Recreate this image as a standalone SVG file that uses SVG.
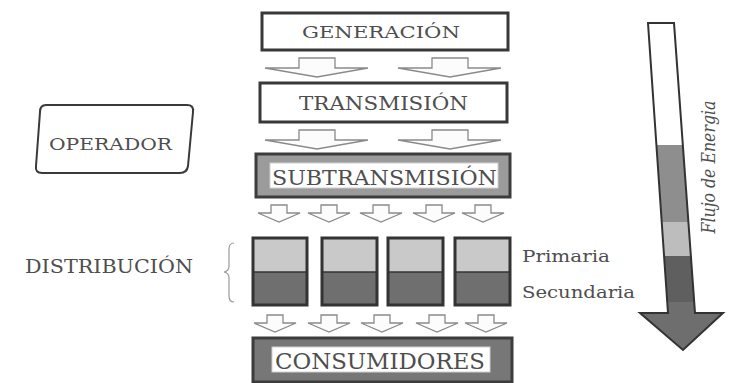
<svg xmlns="http://www.w3.org/2000/svg" width="729" height="383" viewBox="0 0 729 383">
  <style>
    .lbl { fill: #4e4e4e; font-family: "DejaVu Serif", serif; }
    .box { fill: #ffffff; stroke: #383838; stroke-width: 3; }
    .frame { stroke: #3c3c3c; stroke-width: 3; }
    .inner { fill: #ffffff; stroke: #d0d0d0; stroke-width: 1; }
    .flow { fill: #fcfcfc; stroke: #8a8a8a; stroke-width: 1.3; stroke-linejoin: miter; }
    .top { fill: #c9c9c9; }
    .bot { fill: #6f6f6f; }
  </style>
  <defs>
    <!-- small block arrow, centred on x=0 -->
    <path id="smallArrow" d="M-8,0 H8 V8 H21 L0,17 L-21,8 H-8 Z"/>
    <!-- wide block arrow, centred on x=0 -->
    <path id="wideArrow" d="M-18,0 H18 V10 H51 L0,19 L-52,10 H-18 Z"/>
    <clipPath id="energyClip">
      <path d="M648,23 L674,23 L695,313 L723,313 L683,350 L640,313 L668,313 Z"/>
    </clipPath>
  </defs>

  <!-- hierarchy blocks -->
  <g id="generacion">
    <rect class="box" x="262" y="13" width="246" height="37"/>
    <text class="lbl" x="381" y="38" font-size="17" text-anchor="middle" textLength="158" lengthAdjust="spacingAndGlyphs">GENERACIÓN</text>
  </g>

  <g id="transmision">
    <rect class="box" x="260" y="83" width="247" height="39"/>
    <text class="lbl" x="383.5" y="110" font-size="18" text-anchor="middle" textLength="169" lengthAdjust="spacingAndGlyphs">TRANSMISIÓN</text>
  </g>

  <g id="subtransmision">
    <rect class="frame" x="256" y="154" width="254" height="43" fill="#9b9b9b"/>
    <rect class="inner" x="270" y="163" width="228" height="25"/>
    <text class="lbl" x="384.5" y="185" font-size="20" text-anchor="middle" textLength="225" lengthAdjust="spacingAndGlyphs">SUBTRANSMISIÓN</text>
  </g>

  <g id="distribucion-1">
    <rect class="top" x="253" y="238" width="54" height="34"/>
    <rect class="bot" x="253" y="272" width="54" height="33"/>
    <rect x="253" y="238" width="54" height="67" fill="none" stroke="#333" stroke-width="3"/>
    <line x1="253" y1="272" x2="307" y2="272" stroke="#333" stroke-width="1.5"/>
  </g>
  <g id="distribucion-2">
    <rect class="top" x="322" y="238" width="55" height="34"/>
    <rect class="bot" x="322" y="272" width="55" height="33"/>
    <rect x="322" y="238" width="55" height="67" fill="none" stroke="#333" stroke-width="3"/>
    <line x1="322" y1="272" x2="377" y2="272" stroke="#333" stroke-width="1.5"/>
  </g>
  <g id="distribucion-3">
    <rect class="top" x="388" y="238" width="55" height="34"/>
    <rect class="bot" x="388" y="272" width="55" height="33"/>
    <rect x="388" y="238" width="55" height="67" fill="none" stroke="#333" stroke-width="3"/>
    <line x1="388" y1="272" x2="443" y2="272" stroke="#333" stroke-width="1.5"/>
  </g>
  <g id="distribucion-4">
    <rect class="top" x="455" y="238" width="55" height="34"/>
    <rect class="bot" x="455" y="272" width="55" height="33"/>
    <rect x="455" y="238" width="55" height="67" fill="none" stroke="#333" stroke-width="3"/>
    <line x1="455" y1="272" x2="510" y2="272" stroke="#333" stroke-width="1.5"/>
  </g>

  <g id="consumidores">
    <rect class="frame" x="253" y="338" width="259" height="44" fill="#777777"/>
    <rect class="inner" x="272" y="347" width="218" height="25"/>
    <text class="lbl" x="380" y="369" font-size="22" text-anchor="middle" textLength="210" lengthAdjust="spacingAndGlyphs">CONSUMIDORES</text>
  </g>

  <!-- side labels -->
  <g id="operador">
    <path d="M46,105 H187 Q194,105 193,112 L188,166 Q187,173 180,173 H42 Q35,173 36,166 L40,112 Q40,105 46,105 Z" fill="#ffffff" stroke="#3a3a3a" stroke-width="2"/>
    <text class="lbl" x="110.5" y="150" font-size="16" text-anchor="middle" textLength="123" lengthAdjust="spacingAndGlyphs" fill="#5e5e5e">OPERADOR</text>
  </g>

  <g id="distribucion-label">
    <text class="lbl" x="109" y="273" font-size="18" text-anchor="middle" textLength="168" lengthAdjust="spacingAndGlyphs">DISTRIBUCIÓN</text>
    <path d="M234,243 Q229,243 229,249 L229,266 Q229,271 224,272 Q229,273 229,278 L229,296 Q229,302 234,302" fill="none" stroke="#9a9a9a" stroke-width="1.2"/>
  </g>

  <g id="niveles">
    <text class="lbl" x="522" y="262" font-size="17" textLength="88" lengthAdjust="spacingAndGlyphs">Primaria</text>
    <text class="lbl" x="522" y="298" font-size="17" textLength="113" lengthAdjust="spacingAndGlyphs">Secundaria</text>
  </g>

  <!-- energy flow arrow -->
  <g id="flujo-energia">
    <g clip-path="url(#energyClip)">
      <rect x="630" y="15" width="100" height="130" fill="#ffffff"/>
      <rect x="630" y="145" width="100" height="77" fill="#8e8e8e"/>
      <rect x="630" y="222" width="100" height="34" fill="#bdbdbd"/>
      <rect x="630" y="256" width="100" height="46" fill="#5f5f5f"/>
      <rect x="630" y="302" width="100" height="60" fill="#6e6e6e"/>
    </g>
    <path d="M648,23 L674,23 L695,313 L723,313 L683,350 L640,313 L668,313 Z" fill="none" stroke="#333" stroke-width="2" stroke-linejoin="miter"/>
    <text class="lbl" transform="translate(715,167) rotate(-90)" font-size="18" font-style="italic" text-anchor="middle" textLength="133" lengthAdjust="spacingAndGlyphs" fill="#555555">Flujo de Energia</text>
  </g>

  <!-- connectors between levels -->
  <g id="connectors">
    <use href="#wideArrow" class="flow" x="317" y="58"/>
    <use href="#wideArrow" class="flow" x="450" y="58"/>
    <use href="#wideArrow" class="flow" x="317" y="130"/>
    <use href="#wideArrow" class="flow" x="450" y="130"/>

    <use href="#smallArrow" class="flow" x="279" y="205"/>
    <use href="#smallArrow" class="flow" x="329" y="205"/>
    <use href="#smallArrow" class="flow" x="381" y="205"/>
    <use href="#smallArrow" class="flow" x="434" y="205"/>
    <use href="#smallArrow" class="flow" x="483" y="205"/>

    <use href="#smallArrow" class="flow" x="275" y="315"/>
    <use href="#smallArrow" class="flow" x="329" y="315"/>
    <use href="#smallArrow" class="flow" x="382" y="315"/>
    <use href="#smallArrow" class="flow" x="437" y="315"/>
    <use href="#smallArrow" class="flow" x="486" y="315"/>
  </g>
</svg>
